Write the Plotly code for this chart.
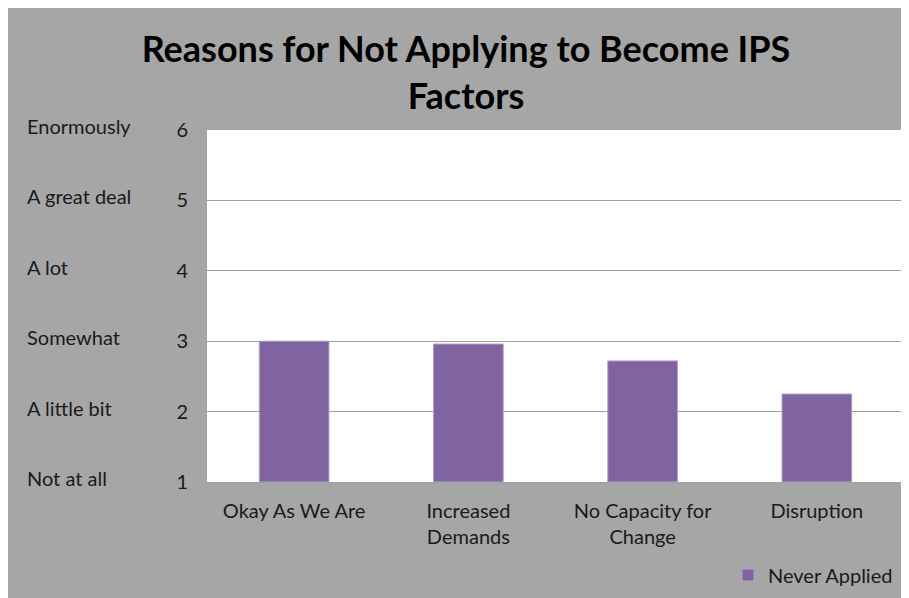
import plotly.graph_objects as go

categories = ["Okay As We Are", "Increased<br>Demands", "No Capacity for<br>Change", "Disruption"]
never_applied = [3.00, 2.96, 2.72, 2.25]
scale_values = [1, 2, 3, 4, 5, 6]
scale_labels = ["Not at all", "A little bit", "Somewhat", "A lot", "A great deal", "Enormously"]

# page body has an 8px margin, so the figure sits at (8, 8) in the window
OFF = 8
W, H = 909 - OFF, 598 - OFF
L, R, T, B = 207 - OFF, 5, 130 - OFF, 115
pw, ph = W - L - R, H - T - B

def px_x(p):
    # p is a window pixel
    return (p - OFF - L) / pw

def px_y(p):
    return (OFF + H - B - p) / ph

FONT = "Lato"
TXT = "#1a1a1a"

fig = go.Figure()
fig.add_trace(go.Bar(
    x=categories, y=[v - 1 for v in never_applied], base=1,
    name="Never Applied",
    marker=dict(color="#8064A2", line=dict(color="#b3a2c7", width=1)),
))

# y-axis word labels
annotations = []
for v, lab in zip(scale_values, scale_labels):
    annotations.append(dict(
        x=px_x(25), xref="paper", y=v, yref="y", yshift=4,
        text=lab, showarrow=False, xanchor="left", yanchor="middle",
        font=dict(family=FONT, size=20, color=TXT),
    ))

shapes = [
    # chart area with border
    dict(type="rect", xref="paper", yref="paper", layer="below",
         x0=px_x(6), x1=px_x(906), y0=px_y(604), y1=px_y(2),
         fillcolor="#a6a6a6", line=dict(color="#808080", width=2)),
    # plot area
    dict(type="rect", xref="paper", yref="paper", layer="below",
         x0=0, x1=1, y0=0, y1=1, fillcolor="white", line=dict(width=0)),
]

fig.update_layout(
    width=W, height=H,
    margin=dict(l=L, r=R, t=T, b=B),
    paper_bgcolor="white", plot_bgcolor="white",
    title=dict(
        text="<b>Reasons for Not Applying to Become IPS<br>Factors</b>",
        x=(466 - OFF) / W, xanchor="center",
        y=1 - (62 - OFF) / H, yanchor="middle",
        font=dict(family=FONT, size=36, color="black"),
    ),
    font=dict(family=FONT, size=20, color=TXT),
    bargap=0.6,
    showlegend=True,
    legend=dict(x=px_x(728), y=px_y(575), xanchor="left", yanchor="middle",
                bgcolor="rgba(0,0,0,0)", font=dict(size=20, color=TXT),
                itemwidth=30),
    annotations=annotations,
    shapes=shapes,
)
fig.update_yaxes(
    range=[1, 6], tickvals=scale_values, ticks="", ticklabelstandoff=14,
    showgrid=True, gridcolor="#a0a0a0", gridwidth=1,
    showline=True, linecolor="#a0a0a0", zeroline=False,
    tickfont=dict(size=20, color=TXT),
)
fig.update_xaxes(
    ticks="", ticklabelstandoff=11, showline=True, linecolor="#a0a0a0",
    tickfont=dict(size=20, color=TXT),
)

fig.write_html("out.html")
